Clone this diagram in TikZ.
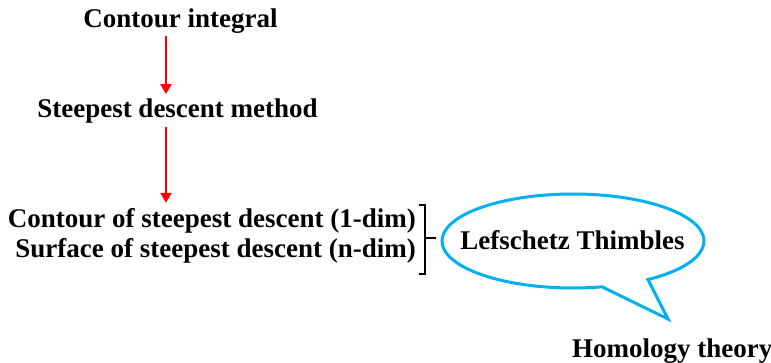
\documentclass[tikz,border=0pt]{standalone}
\usepackage{fontspec}
\setmainfont{Liberation Serif}
\usetikzlibrary{arrows.meta}
\definecolor{calloutblue}{RGB}{0,176,240}
\definecolor{arrowred}{RGB}{255,0,0}
\tikzset{
  label/.style={font=\bfseries\fontsize{27}{31}\selectfont, inner sep=0pt, text=black},
  redarrow/.style={draw=arrowred, line width=2.3pt,
    -{Triangle[width=11pt,length=10pt]}, arrowred},
  brack/.style={draw=black, line width=1.8pt},
  bubble/.style={draw=calloutblue, line width=3pt, line join=miter}
}
\begin{document}
\begin{tikzpicture}[x=1pt,y=1pt]
  \useasboundingbox (0,0) rectangle (771,362);

  % main chain of methods
  \node[label, anchor=base] (ci) at (180.5,334) {Contour integral};
  \node[label, anchor=base] (sd) at (177.5,244) {Steepest descent method};
  \node[label, anchor=base east] (c1) at (416,135) {Contour of steepest descent (1-dim)};
  \node[label, anchor=base east] (c2) at (416,105) {Surface of steepest descent (n-dim)};

  % arrows between the steps
  \coordinate (ax) at (166,0);
  \draw[redarrow, shorten <=2pt, shorten >=5pt] (ci.south -| ax) -- (sd.north -| ax);
  \draw[redarrow, shorten <=3pt, shorten >=5pt] (sd.south -| ax) -- (c1.north -| ax);

  % bracket grouping the two descent lines
  \coordinate (bt) at (425,157);
  \coordinate (bb) at (425,88);
  \coordinate (bm) at (425,124);
  \draw[brack] ([xshift=-6pt]bt) -- (bt) -- (bb) -- ([xshift=-6pt]bb);
  \draw[brack] (bm) -- ([xshift=11pt]bm);

  % speech bubble
  \coordinate (ec) at (573,121);
  \coordinate (tip) at (668,43);
  \draw[bubble] (ec) ++(-55.1:131 and 47)
    arc[start angle=-55.1, end angle=282.8, x radius=131, y radius=47]
    -- (tip) -- cycle;
  \node[label, anchor=base] (lt) at (572.5,113) {Lefschetz Thimbles};

  \node[label, anchor=base west] (ht) at (572,5) {Homology theory};
\end{tikzpicture}
\end{document}
